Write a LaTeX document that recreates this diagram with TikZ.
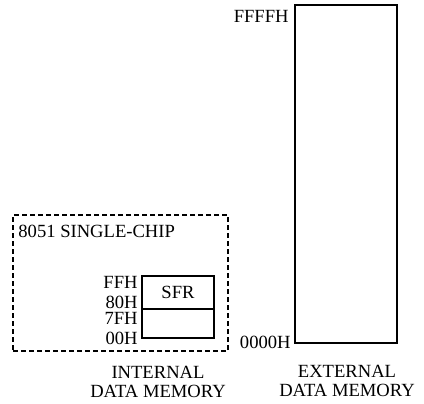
\documentclass[tikz,border=0pt]{standalone}
\usepackage{fontspec}
\setmainfont{Liberation Serif}
\begin{document}
\begin{tikzpicture}[x=0.5pt, y=-0.5pt, every node/.style={font=\fontsize{9.3}{9.8}\selectfont},
  membox/.style={draw,line width=0.9pt,minimum width=36pt,inner sep=0pt},
  addr/.style={anchor=east,inner sep=0pt}]
\useasboundingbox (0,0) rectangle (424,403);
% on-chip part
\node[draw,dash pattern=on 2.5pt off 1.5pt,line width=0.7pt,minimum width=107.5pt,minimum height=68pt,inner sep=0pt] (chip) at (120.5,283) {};
\node[anchor=west,inner sep=0pt] (chiplbl) at (18,231) {8051 SINGLE-CHIP};
\node[membox,minimum height=16.5pt] (sfr) at (178,292.5) {SFR};
\node[membox,minimum height=14.5pt] (low) at (178,323.5) {};
\node[addr] (ffh) at (138,282) {FFH};
\node[addr] (h80) at (138,302) {80H};
\node[addr] (h7f) at (138,318) {7FH};
\node[addr] (h00) at (138,338) {00H};
\node[align=center,inner sep=0pt] (intlbl) at (158,382) {INTERNAL\\DATA MEMORY};
% external part
\node[membox,minimum width=51pt,minimum height=169pt] (ext) at (346,174) {};
\node[addr] (hffff) at (289,16) {FFFFH};
\node[addr] (h0000) at (291,342) {0000H};
\node[align=center,inner sep=0pt] (extlbl) at (347,381) {EXTERNAL\\DATA MEMORY};
\end{tikzpicture}
\end{document}
